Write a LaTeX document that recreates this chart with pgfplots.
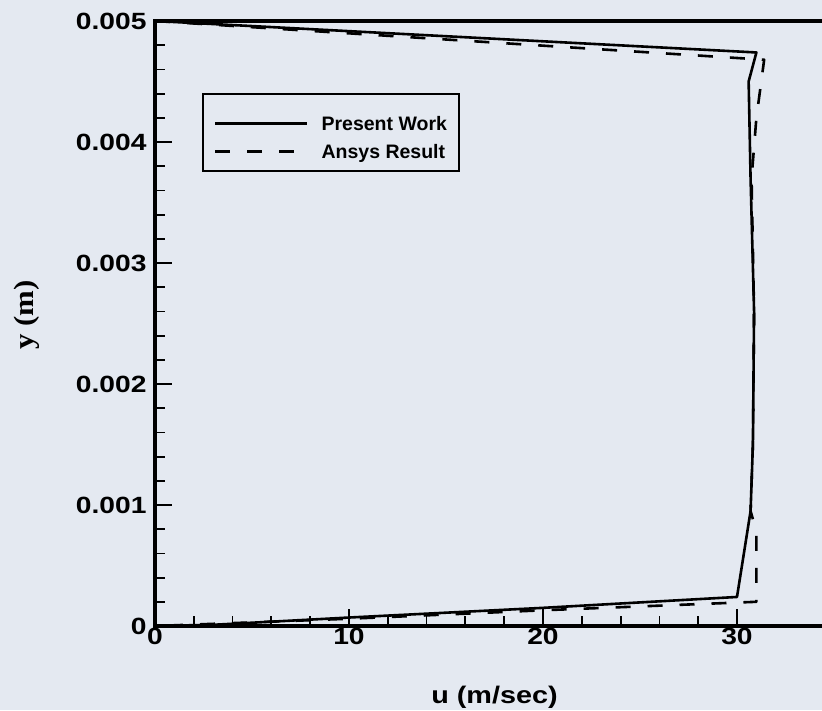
\documentclass[border=0pt]{standalone}
\usepackage{fontspec}
\setmainfont{Liberation Sans}
\newfontfamily\tickfont[FakeStretch=1.2]{Liberation Sans}
\newfontfamily\serifstretch[FakeStretch=1.1]{Liberation Serif}
\usepackage{pgfplots}
\pgfplotsset{compat=1.18}
\definecolor{bgcol}{RGB}{228,233,241}

\pgfplotstableread{
u y
0 0.005
31.0 0.00474
30.6 0.0045
30.7 0.0037
30.88 0.0026
30.82 0.0015
30.7 0.00095
30.0 0.00024
20.0 0.00015
10.0 0.00007
3.0 0.00001
0 0
}\present

\pgfplotstableread{
u y
0 0.005
31.4 0.00468
31.0 0.0042
30.75 0.0037
30.88 0.0026
30.82 0.0015
30.7 0.00095
31.0 0.00078
31.0 0.0002
20.0 0.00013
10.0 0.00006
0 0
}\ansys

\begin{document}
\begin{tikzpicture}
\path[fill=bgcol, use as bounding box] (-155pt,-84pt) rectangle (667pt,626pt);
\begin{axis}[
  at={(0pt,0pt)}, anchor=south west,
  scale only axis, width=679pt, height=605pt,
  xmin=0, xmax=35, ymin=0, ymax=0.005,
  axis line style={line width=4pt},
  xtick={0,10,20,30}, minor x tick num=4,
  ytick={0,0.001,0.002,0.003,0.004,0.005},
  yticklabels={0,0.001,0.002,0.003,0.004,0.005},
  minor y tick num=4,
  scaled y ticks=false,
  xtick pos=left, ytick pos=left,
  tick align=inside,
  major tick length=17pt, minor tick length=10pt,
  major tick style={line width=2.4pt, black},
  minor tick style={line width=1.8pt, black},
  /pgf/number format/assume math mode=true,
  tick label style={font=\tickfont\bfseries\fontsize{23.5}{28}\selectfont},
  yticklabel style={xshift=-5pt},
  xticklabel style={yshift=1pt},
  xlabel={u (m/sec)},
  xlabel style={font=\tickfont\bfseries\fontsize{24}{28}\selectfont, at={(axis description cs:0.5,0)}, anchor=base, yshift=-77pt},
  ylabel={y (m)},
  ylabel style={font=\serifstretch\bfseries\fontsize{28}{32}\selectfont, at={(axis description cs:-0.1885,0.514)}, anchor=center},
  legend style={at={(axis description cs:0.0692,0.881)}, anchor=north west, draw=black, line width=2pt, fill=none,
    inner xsep=11pt, inner ysep=11pt, row sep=1.4pt,
    font=\bfseries\fontsize{19.5}{22}\selectfont, nodes={inner sep=0pt},
    /tikz/column 1/.style={column sep=13pt}},
  legend cell align=left,
  legend image code/.code={\draw[#1] (0pt,-5pt) -- (92pt,-5pt);},
]
\addplot[black, line width=2.6pt, line join=round] table[x=u, y=y] {\present};
\addlegendentry{\makebox[126pt][l]{\rule{0pt}{25.3pt}\smash{Present Work}}}
\addplot[black, line width=2.6pt, line join=round, dash pattern=on 15pt off 17pt] table[x=u, y=y] {\ansys};
\addlegendentry{\makebox[126pt][l]{\rule{0pt}{25.3pt}\smash{Ansys Result}}}
\end{axis}
\end{tikzpicture}
\end{document}
